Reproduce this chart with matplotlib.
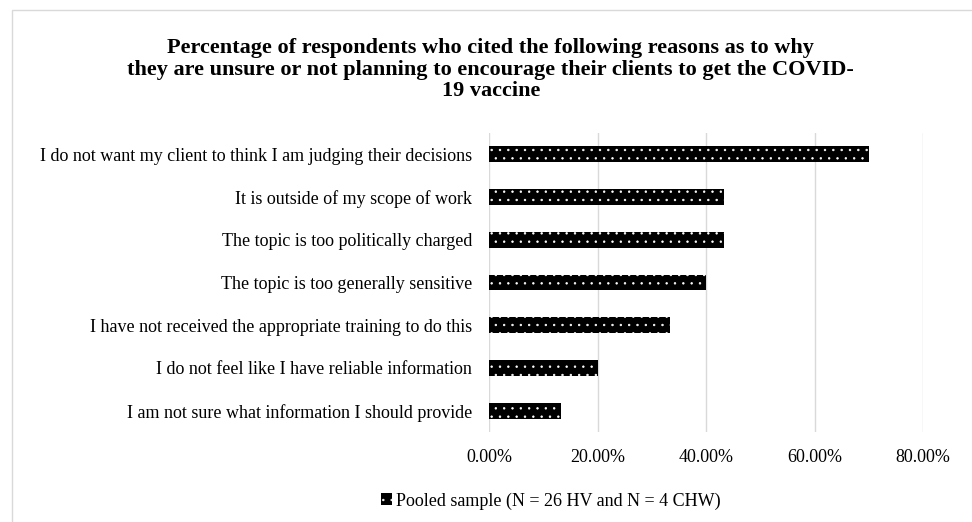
import matplotlib
matplotlib.use("Agg")
import matplotlib.pyplot as plt
from matplotlib.patches import Rectangle
from matplotlib.ticker import PercentFormatter

plt.rcParams["font.family"] = ["Liberation Serif", "DejaVu Serif"]
plt.rcParams["hatch.linewidth"] = 0.5

reasons = [
    "I do not want my client to think I am judging their decisions",
    "It is outside of my scope of work",
    "The topic is too politically charged",
    "The topic is too generally sensitive",
    "I have not received the appropriate training to do this",
    "I do not feel like I have reliable information",
    "I am not sure what information I should provide",
]
pooled = [70.0, 43.33, 43.33, 40.0, 33.33, 20.0, 13.33]
series_label = "Pooled sample (N = 26 HV and N = 4 CHW)"
title = ("Percentage of respondents who cited the following reasons as to why\n"
         "they are unsure or not planning to encourage their clients to get the COVID-\n"
         "19 vaccine")
xticks = [0, 20, 40, 60, 80]

fig = plt.figure(figsize=(9.72, 5.22), dpi=100)
fig.patches.append(Rectangle((12 / 972, -0.1), 1.2, 0.981 + 0.1, transform=fig.transFigure,
                             fill=False, edgecolor="#d9d9d9", linewidth=1.0))

ax = fig.add_axes([489 / 972, 1 - 432 / 522, (923 - 489) / 972, (432 - 133) / 522])
y = list(range(len(reasons)))
ax.barh(y, pooled, height=0.37, color="black", edgecolor="white", linewidth=0,
        hatch="..", label=series_label)
ax.set_yticks(y)
ax.set_yticklabels(reasons, fontsize=13)
ax.set_ylim(len(reasons) - 0.5, -0.5)
ax.set_xlim(0, 80)
ax.set_xticks(xticks)
ax.xaxis.set_major_formatter(PercentFormatter(decimals=2))
ax.tick_params(axis="x", labelsize=13, length=0, pad=12)
ax.tick_params(axis="y", length=0, pad=12)
ax.grid(axis="x", color="#d9d9d9", linewidth=1)
ax.set_axisbelow(True)
for s in ax.spines.values():
    s.set_visible(False)

fig.text(0.505, 1 - 70 / 522, title, ha="center", va="center", fontsize=16,
         fontweight="bold", linespacing=1.1)

fig.legend(loc="center", bbox_to_anchor=(551 / 972, 1 - 501 / 522), frameon=False,
           fontsize=13, handlelength=0.6, handleheight=0.6, handletextpad=0.2)

fig.savefig("out.png", dpi=100)
